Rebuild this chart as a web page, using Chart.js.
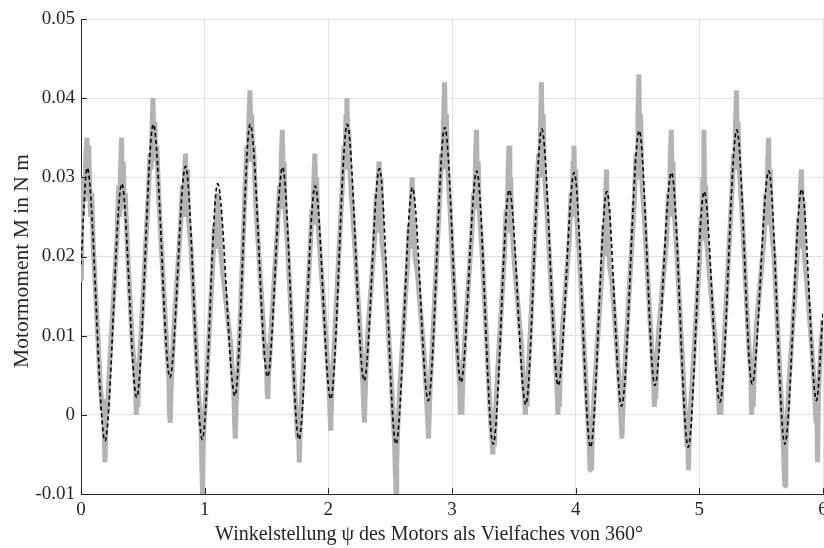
<!DOCTYPE html>
<html>
<head>
<meta charset="utf-8">
<script src="https://cdn.jsdelivr.net/npm/chart.js@4.4.1/dist/chart.umd.min.js"></script>
<style>
  html, body { margin: 0; padding: 0; background: #fff; }
  canvas { display: block; }
</style>
</head>
<body>
<canvas id="chart" width="824" height="548"></canvas>
<script>
// Modellverlauf: Extremwerte des Motormoments (gestrichelte Kurve)
const modellWinkel = [0, 0.05, 0.194, 0.33, 0.45, 0.585, 0.719, 0.845, 0.981, 1.105, 1.245, 1.368, 1.509,
    1.63, 1.762, 1.893, 2.019, 2.153, 2.29, 2.413, 2.547, 2.68, 2.808, 2.942, 3.072, 3.2, 3.333, 3.463, 3.597,
    3.726, 3.859, 3.988, 4.12, 4.252, 4.371, 4.514, 4.64, 4.775, 4.91, 5.039, 5.166, 5.303, 5.427, 5.562,
    5.691, 5.828, 5.947, 6];
const modellMoment = [0.019, 0.0312, -0.0033, 0.0292, 0.0022, 0.0367, 0.0047, 0.0314, -0.0031, 0.0292, 0.0024,
    0.0367, 0.0048, 0.0313, -0.0031, 0.0289, 0.0020, 0.0367, 0.0043, 0.0311, -0.0037, 0.0287, 0.0018, 0.0363,
    0.0041, 0.0308, -0.0037, 0.0284, 0.0013, 0.0361, 0.0037, 0.0306, -0.0041, 0.0282, 0.0011, 0.0359, 0.0037,
    0.0306, -0.0041, 0.0282, 0.0016, 0.0360, 0.0039, 0.0308, -0.0037, 0.0285, 0.0018, 0.013];

// Messung [Winkel, Moment] (graue Kurve)
const messung = [
    [0, 0.017], [0.004, 0.027], [0.012, 0.025], [0.02, 0.03], [0.03, 0.027], [0.04, 0.033], [0.048, 0.035],
    [0.055, 0.031], [0.062, 0.034], [0.07, 0.029], [0.078, 0.025], [0.086, 0.028], [0.1, 0.021],
    [0.155, 0.004], [0.172, 0.0005], [0.18, 0.002], [0.188, -0.002], [0.194, -0.006], [0.2, -0.002], [0.206, 0.002], [0.214, 0.0005], [0.23, 0.006],
    [0.29, 0.022], [0.305, 0.029], [0.313, 0.025], [0.32, 0.031], [0.328, 0.035], [0.335, 0.027], [0.342, 0.032], [0.35, 0.026], [0.358, 0.028], [0.375, 0.021],
    [0.415, 0.009], [0.432, 0.006], [0.44, 0.004], [0.447, 0.0], [0.453, 0.003], [0.46, 0.001], [0.468, 0.006], [0.485, 0.01],
    [0.545, 0.028], [0.558, 0.033], [0.566, 0.031], [0.574, 0.036], [0.582, 0.040], [0.59, 0.034], [0.597, 0.037], [0.605, 0.032], [0.613, 0.034], [0.63, 0.027],
    [0.685, 0.011], [0.7, 0.007], [0.71, 0.005], [0.716, 0.0], [0.722, -0.001], [0.728, 0.003], [0.736, 0.006], [0.752, 0.011],
    [0.805, 0.024], [0.82, 0.029], [0.83, 0.025], [0.838, 0.031], [0.845, 0.033], [0.852, 0.027], [0.86, 0.031], [0.868, 0.025], [0.89, 0.021],
    [0.945, 0.004], [0.962, 0.0], [0.972, -0.002], [0.978, -0.007], [0.983, -0.010], [0.988, -0.004], [0.996, -0.001], [1.015, 0.004],
    [1.065, 0.019], [1.08, 0.024], [1.09, 0.021], [1.098, 0.027], [1.106, 0.028], [1.113, 0.023], [1.12, 0.026], [1.128, 0.021], [1.145, 0.018],
    [1.21, 0.009], [1.226, 0.005], [1.236, 0.003], [1.242, -0.001], [1.248, -0.003], [1.254, 0.001], [1.262, 0.004], [1.28, 0.009],
    [1.328, 0.029], [1.342, 0.034], [1.35, 0.032], [1.358, 0.037], [1.366, 0.041], [1.373, 0.035], [1.38, 0.038], [1.388, 0.032], [1.395, 0.034], [1.412, 0.027],
    [1.475, 0.011], [1.49, 0.007], [1.498, 0.009], [1.505, 0.003], [1.511, 0.002], [1.517, 0.005], [1.525, 0.007], [1.542, 0.012],
    [1.59, 0.024], [1.605, 0.029], [1.613, 0.026], [1.621, 0.033], [1.628, 0.036], [1.635, 0.03], [1.642, 0.032], [1.65, 0.026], [1.672, 0.021],
    [1.725, 0.004], [1.742, 0.0], [1.752, -0.003], [1.758, -0.001], [1.765, -0.006], [1.772, -0.002], [1.78, 0.001], [1.798, 0.006],
    [1.853, 0.021], [1.868, 0.026], [1.876, 0.024], [1.884, 0.03], [1.891, 0.033], [1.898, 0.028], [1.905, 0.03], [1.913, 0.025], [1.935, 0.02],
    [1.984, 0.009], [2.0, 0.005], [2.008, 0.003], [2.014, 0.0], [2.02, -0.002], [2.026, 0.002], [2.034, 0.005], [2.052, 0.01],
    [2.113, 0.029], [2.127, 0.034], [2.135, 0.031], [2.143, 0.038], [2.15, 0.04], [2.158, 0.034], [2.165, 0.036], [2.173, 0.031], [2.195, 0.026],
    [2.255, 0.011], [2.27, 0.007], [2.279, 0.004], [2.286, 0.001], [2.292, -0.001], [2.298, 0.003], [2.306, 0.006], [2.322, 0.011],
    [2.373, 0.022], [2.388, 0.028], [2.396, 0.023], [2.404, 0.03], [2.411, 0.032], [2.418, 0.026], [2.425, 0.03], [2.433, 0.022], [2.455, 0.019],
    [2.51, 0.004], [2.527, -0.001], [2.537, -0.004], [2.543, -0.008], [2.548, -0.010], [2.553, -0.006], [2.56, -0.002], [2.58, 0.004],
    [2.64, 0.019], [2.655, 0.024], [2.663, 0.021], [2.671, 0.027], [2.678, 0.03], [2.685, 0.022], [2.692, 0.025], [2.7, 0.02], [2.72, 0.018],
    [2.772, 0.008], [2.788, 0.004], [2.798, 0.001], [2.804, -0.001], [2.81, -0.003], [2.816, 0.0], [2.824, 0.004], [2.842, 0.009],
    [2.902, 0.028], [2.916, 0.033], [2.924, 0.031], [2.932, 0.037], [2.94, 0.042], [2.947, 0.035], [2.954, 0.038], [2.962, 0.032], [2.984, 0.026],
    [3.037, 0.01], [3.052, 0.006], [3.062, 0.004], [3.068, 0.0], [3.074, 0.002], [3.08, 0.0], [3.088, 0.005], [3.105, 0.01],
    [3.16, 0.023], [3.175, 0.028], [3.183, 0.026], [3.191, 0.033], [3.198, 0.036], [3.205, 0.029], [3.212, 0.032], [3.22, 0.026], [3.242, 0.021],
    [3.297, 0.004], [3.313, -0.001], [3.323, -0.003], [3.33, -0.005], [3.336, -0.002], [3.343, -0.004], [3.35, 0.0], [3.368, 0.005],
    [3.423, 0.02], [3.438, 0.026], [3.446, 0.023], [3.454, 0.031], [3.461, 0.034], [3.468, 0.026], [3.475, 0.03], [3.483, 0.024], [3.505, 0.019],
    [3.56, 0.009], [3.577, 0.004], [3.587, 0.002], [3.593, 0.0], [3.6, 0.003], [3.607, 0.001], [3.615, 0.005], [3.632, 0.01],
    [3.686, 0.028], [3.7, 0.033], [3.708, 0.03], [3.716, 0.037], [3.723, 0.042], [3.73, 0.034], [3.737, 0.038], [3.745, 0.031], [3.767, 0.026],
    [3.823, 0.01], [3.84, 0.006], [3.85, 0.003], [3.856, 0.0], [3.862, 0.002], [3.868, 0.001], [3.876, 0.006], [3.893, 0.011],
    [3.948, 0.022], [3.963, 0.028], [3.971, 0.025], [3.979, 0.032], [3.986, 0.034], [3.993, 0.028], [4.0, 0.031], [4.008, 0.025], [4.03, 0.02],
    [4.083, 0.004], [4.1, -0.001], [4.11, -0.004], [4.116, -0.007], [4.122, -0.005], [4.128, -0.007], [4.135, -0.002], [4.155, 0.004],
    [4.212, 0.018], [4.227, 0.024], [4.235, 0.02], [4.243, 0.028], [4.25, 0.031], [4.257, 0.022], [4.264, 0.026], [4.272, 0.019], [4.292, 0.017],
    [4.335, 0.008], [4.352, 0.004], [4.362, 0.001], [4.368, -0.001], [4.374, -0.003], [4.38, 0.0], [4.388, 0.003], [4.405, 0.008],
    [4.474, 0.027], [4.488, 0.033], [4.496, 0.03], [4.504, 0.038], [4.511, 0.043], [4.518, 0.034], [4.525, 0.038], [4.533, 0.03], [4.555, 0.025],
    [4.605, 0.011], [4.62, 0.007], [4.63, 0.004], [4.636, 0.001], [4.642, 0.004], [4.648, 0.002], [4.656, 0.007], [4.673, 0.011],
    [4.735, 0.022], [4.75, 0.028], [4.758, 0.025], [4.766, 0.033], [4.773, 0.036], [4.78, 0.029], [4.787, 0.032], [4.795, 0.026], [4.817, 0.021],
    [4.873, 0.004], [4.89, -0.001], [4.9, -0.004], [4.906, -0.002], [4.912, -0.007], [4.918, -0.003], [4.925, 0.0], [4.945, 0.005],
    [4.999, 0.019], [5.014, 0.025], [5.022, 0.022], [5.03, 0.03], [5.037, 0.036], [5.044, 0.026], [5.051, 0.029], [5.059, 0.022], [5.08, 0.018],
    [5.13, 0.009], [5.146, 0.005], [5.156, 0.002], [5.162, 0.0], [5.168, 0.003], [5.174, 0.0], [5.182, 0.004], [5.2, 0.009],
    [5.263, 0.028], [5.277, 0.033], [5.285, 0.031], [5.293, 0.037], [5.3, 0.041], [5.307, 0.034], [5.314, 0.037], [5.322, 0.031], [5.344, 0.026],
    [5.392, 0.011], [5.407, 0.007], [5.417, 0.005], [5.423, 0.0], [5.43, 0.004], [5.436, 0.001], [5.444, 0.006], [5.46, 0.011],
    [5.522, 0.022], [5.537, 0.028], [5.545, 0.024], [5.553, 0.032], [5.56, 0.035], [5.567, 0.027], [5.574, 0.031], [5.582, 0.024], [5.604, 0.02],
    [5.655, 0.004], [5.672, -0.001], [5.682, -0.005], [5.688, -0.008], [5.693, -0.009], [5.699, -0.004], [5.706, -0.002], [5.725, 0.004],
    [5.788, 0.019], [5.803, 0.025], [5.811, 0.021], [5.819, 0.029], [5.826, 0.031], [5.833, 0.023], [5.84, 0.027], [5.848, 0.02], [5.868, 0.017],
    [5.912, 0.008], [5.928, 0.004], [5.938, 0.001], [5.944, -0.001], [5.95, 0.002], [5.956, -0.006], [5.964, 0.003], [5.98, 0.008], [6.0, 0.012]
];

const winkelTicks = ['0', '1', '2', '3', '4', '5', '6'];
const momentTicks = ['-0.01', '0', '0.01', '0.02', '0.03', '0.04', '0.05'];
const xTitel = 'Winkelstellung ψ des Motors als Vielfaches von 360°';
const yTitel = 'Motormoment M in N m';

const FONT = '"Liberation Serif", "DejaVu Serif", serif';
const AXIS_COLOR = '#262626';
const GRID_COLOR = '#e2e2e2';

// kurze Teilstriche nach innen und die Achsenbeschriftungen
const achsen = {
    id: 'achsen',
    afterDraw(chart) {
        const {ctx, chartArea, scales} = chart;
        ctx.save();
        ctx.strokeStyle = AXIS_COLOR;
        ctx.lineWidth = 1;
        ctx.beginPath();
        for (const t of scales.x.ticks) {
            const px = Math.round(scales.x.getPixelForValue(t.value)) + 0.5;
            ctx.moveTo(px, chartArea.bottom);
            ctx.lineTo(px, chartArea.bottom - 6);
        }
        for (const t of scales.y.ticks) {
            const py = Math.round(scales.y.getPixelForValue(t.value)) + 0.5;
            ctx.moveTo(chartArea.left, py);
            ctx.lineTo(chartArea.left + 6, py);
        }
        ctx.stroke();

        ctx.fillStyle = AXIS_COLOR;
        ctx.textAlign = 'center';
        ctx.textBaseline = 'alphabetic';
        ctx.font = '20px ' + FONT;
        ctx.fillText(xTitel, 429, 540);

        ctx.translate(28, 261);
        ctx.rotate(-Math.PI / 2);
        ctx.font = '21.5px ' + FONT;
        ctx.fillText(yTitel, 0, 0);
        ctx.restore();
    }
};

let modell = modellWinkel.map((w, i) => ({x: w, y: modellMoment[i]}));
let gemessen = messung.map(p => ({x: p[0], y: p[1]}));

new Chart(document.getElementById('chart'), {
    type: 'line',
    data: {
        datasets: [
            {
                label: 'Modell',
                data: modell,
                borderColor: '#000000',
                borderWidth: 1.6,
                borderDash: [4, 3],
                cubicInterpolationMode: 'monotone',
                pointRadius: 0,
                fill: false,
                order: 0
            },
            {
                label: 'Messung',
                data: gemessen,
                borderColor: '#b3b3b3',
                borderWidth: 5,
                borderJoinStyle: 'bevel',
                tension: 0,
                pointRadius: 0,
                fill: false,
                order: 1
            }
        ]
    },
    plugins: [achsen],
    options: {
        responsive: false,
        devicePixelRatio: 1,
        animation: false,
        layout: {padding: {top: 19, right: 1, bottom: 0, left: 0}},
        plugins: {
            legend: {display: false},
            tooltip: {enabled: false}
        },
        scales: {
            x: {
                type: 'linear',
                min: 0,
                max: 6,
                afterFit: (s) => { s.height = 54; s.paddingLeft = 0; s.paddingRight = 0; },
                grid: {color: GRID_COLOR, drawTicks: false},
                border: {color: AXIS_COLOR, width: 1},
                ticks: {
                    stepSize: 1,
                    padding: 5,
                    maxRotation: 0,
                    autoSkip: false,
                    color: AXIS_COLOR,
                    font: {family: FONT, size: 19},
                    callback: (v) => winkelTicks[Math.round(v)]
                }
            },
            y: {
                min: -0.01,
                max: 0.05,
                afterFit: (s) => { s.width = 81; s.paddingTop = 0; s.paddingBottom = 0; },
                grid: {color: GRID_COLOR, drawTicks: false},
                border: {color: AXIS_COLOR, width: 1},
                ticks: {
                    stepSize: 0.01,
                    padding: 6,
                    color: AXIS_COLOR,
                    font: {family: FONT, size: 19},
                    callback: (v) => momentTicks[Math.round((v + 0.01) / 0.01)]
                }
            }
        }
    }
});
</script>
</body>
</html>
